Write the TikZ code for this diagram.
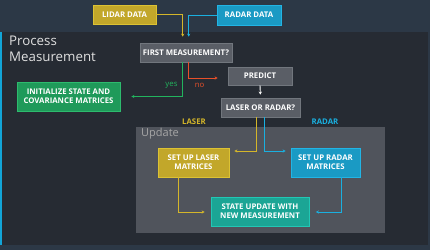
\documentclass[tikz,border=0pt]{standalone}
\usepackage{fontspec}
\setmainfont{Open Sans}
\usetikzlibrary{arrows.meta}
\definecolor{bandbg}{HTML}{2C3846}
\definecolor{panelbg}{HTML}{262B33}
\definecolor{edgecyan}{HTML}{12A5D8}
\definecolor{updbg}{HTML}{50545C}
\definecolor{graybox}{HTML}{5A5E66}
\definecolor{grayedge}{HTML}{71767D}
\definecolor{yelfill}{HTML}{C2A72A}
\definecolor{yeledge}{HTML}{DCC233}
\definecolor{cyanfill}{HTML}{1A9AC4}
\definecolor{cyanedge}{HTML}{22B5E5}
\definecolor{grnfill}{HTML}{1F9A5A}
\definecolor{grnedge}{HTML}{2DBB6E}
\definecolor{tealfill}{HTML}{1BA595}
\definecolor{tealedge}{HTML}{22C7B5}
\definecolor{yelline}{HTML}{D4B62A}
\definecolor{cyanline}{HTML}{1AB0E0}
\definecolor{grnline}{HTML}{22B45E}
\definecolor{redline}{HTML}{E8502A}
\begin{document}
\begin{tikzpicture}[x=1pt,y=-1pt,
  box/.style={draw, line width=0.8pt, text=white, align=center,
    inner sep=0pt, font=\bfseries\fontsize{7.8}{9.2}\selectfont},
  graystep/.style={box, fill=graybox, draw=grayedge},
  yelstep/.style={box, fill=yelfill, draw=yeledge},
  cyanstep/.style={box, fill=cyanfill, draw=cyanedge},
  grnstep/.style={box, fill=grnfill, draw=grnedge},
  tealstep/.style={box, fill=tealfill, draw=tealedge},
  link/.style={line width=0.9pt, -{Stealth[length=3pt,width=3.2pt]}},
  tag/.style={font=\fontsize{7.8}{8}\selectfont, inner sep=0pt}
]
% backgrounds
\fill[bandbg] (0,0) rectangle (430,250);
\fill[panelbg] (0,32) rectangle (428,245);
\fill[edgecyan] (0,32) rectangle (2,245);
\fill[updbg] (136,127) rectangle (385,233);

% titles
\node[anchor=north west, inner sep=0pt, text=white!88!black, align=left,
  font=\fontsize{13.3}{16}\selectfont] (title) at (9,35.5) {Process\\Measurement};
\node[anchor=north west, inner sep=0pt, text=gray!70!white,
  font=\fontsize{11}{12}\selectfont] (updtitle) at (141,128) {Update};

% nodes
\node[yelstep, minimum width=63pt, minimum height=19pt] (lidar) at (124.5,14.5) {LIDAR DATA};
\node[cyanstep, minimum width=64pt, minimum height=20pt] (radar) at (249,15) {RADAR DATA};
\node[graystep, minimum width=92pt, minimum height=19pt] (first) at (186,52.5) {FIRST MEASUREMENT?};
\node[graystep, minimum width=64pt, minimum height=18pt] (predict) at (260,76) {PREDICT};
\node[graystep, minimum width=79pt, minimum height=19pt] (lor) at (260.5,107.5) {LASER OR RADAR?};
\node[grnstep, minimum width=103pt, minimum height=29pt] (init) at (68.5,96.5) {INITIALIZE STATE AND\\COVARIANCE MATRICES};
\node[yelstep, minimum width=71pt, minimum height=29pt] (laser) at (193.5,162.5) {SET UP LASER\\MATRICES};
\node[cyanstep, minimum width=69pt, minimum height=29pt] (radarm) at (325.5,162.5) {SET UP RADAR\\MATRICES};
\node[tealstep, minimum width=98pt, minimum height=29pt] (state) at (260,211.5) {STATE UPDATE WITH\\NEW MEASUREMENT};

% labels
\node[tag, text=grnline] (yes) at (171.5,85.5) {yes};
\node[tag, text=redline] (no) at (199.5,85.5) {no};
\node[tag, text=yelline, font=\bfseries\fontsize{7.8}{8}\selectfont] (lbllaser) at (194,122) {LASER};
\node[tag, text=cyanline, font=\bfseries\fontsize{7.8}{8}\selectfont] (lblradar) at (325,122) {RADAR};

% connectors
\draw[link, yelline, shorten >=6pt] (lidar.east) -| ([xshift=-3.3pt]first.north);
\draw[link, cyanline, shorten >=6pt] (radar.west) -| ([xshift=2.7pt]first.north);
\draw[link, grnline, shorten >=11pt] ([xshift=-3.3pt]first.south) |- (init.east);
\draw[link, redline, shorten >=10pt] ([xshift=2.7pt]first.south) |- ([yshift=-2pt]predict.west);
\draw[link, white, shorten >=3pt] (predict.south) -- (lor.north);
\draw[link, yelline, shorten >=5pt] ([xshift=-4.5pt]lor.south) |- ([yshift=11.5pt]laser.east);
\draw[link, cyanline, shorten >=5pt] ([xshift=3.5pt]lor.south) |- ([yshift=11.5pt]radarm.west);
\draw[link, yelline, shorten >=6pt] ([xshift=-15.5pt]laser.south) |- ([yshift=-0.5pt]state.west);
\draw[link, cyanline, shorten >=6.5pt] ([xshift=15.5pt]radarm.south) |- ([yshift=-0.5pt]state.east);
\end{tikzpicture}
\end{document}
